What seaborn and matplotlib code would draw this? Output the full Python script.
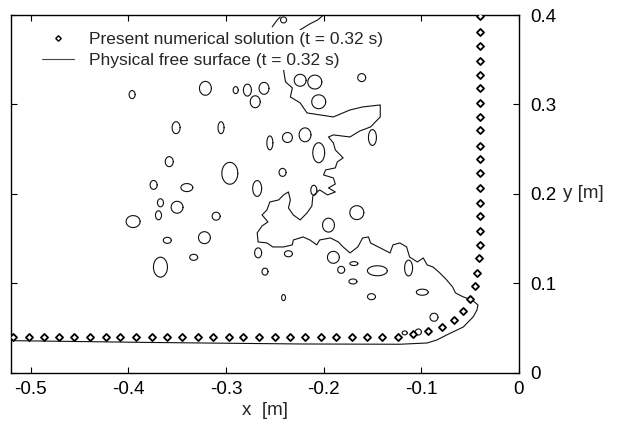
import numpy as np
import pandas as pd
import matplotlib
matplotlib.use("Agg")
import matplotlib.pyplot as plt
from matplotlib.lines import Line2D
import seaborn as sns

# ---------------- data ----------------
# numerical solution markers: bottom row
bottom_x = [-0.518, -0.502, -0.486, -0.471, -0.455, -0.439, -0.423, -0.408, -0.392,
            -0.376, -0.360, -0.345, -0.329, -0.313, -0.297, -0.282, -0.266, -0.250,
            -0.234, -0.219, -0.203, -0.187, -0.171, -0.156, -0.140, -0.124]
bottom_y = [0.040] * len(bottom_x)
# corner run-up
corner_x = [-0.108, -0.093, -0.079, -0.067, -0.057, -0.050, -0.045, -0.043, -0.041,
            -0.040, -0.0396, -0.0396, -0.0396]
corner_y = [0.043, 0.047, 0.051, 0.059, 0.069, 0.082, 0.097, 0.112, 0.128,
            0.143, 0.159, 0.175, 0.190]
# along the right wall
wall_y = [0.207, 0.223, 0.239, 0.254, 0.271, 0.286, 0.302, 0.318, 0.333, 0.349,
          0.365, 0.381, 0.399]
wall_x = [-0.0396] * len(wall_y)

# physical free surface (main contour)
surface_x = [-0.531, -0.377, -0.224, -0.122, -0.094, -0.084, -0.074, -0.057, -0.047,
             -0.043, -0.042, -0.048, -0.057, -0.065, -0.068, -0.074, -0.081, -0.088,
             -0.094, -0.098, -0.104, -0.112, -0.115, -0.122, -0.129, -0.132, -0.142,
             -0.152, -0.154, -0.160, -0.165, -0.173, -0.180, -0.185, -0.193, -0.204,
             -0.207, -0.214, -0.221, -0.231, -0.232, -0.241, -0.252, -0.258, -0.267,
             -0.268, -0.263, -0.257, -0.263, -0.258, -0.255, -0.246, -0.241, -0.236,
             -0.234, -0.236, -0.231, -0.224, -0.217, -0.212, -0.211, -0.204, -0.196,
             -0.188, -0.195, -0.188, -0.190, -0.200, -0.198, -0.188, -0.186, -0.180,
             -0.188, -0.190, -0.195, -0.190, -0.173, -0.163, -0.152, -0.142, -0.142,
             -0.160, -0.173, -0.190, -0.204, -0.217, -0.224, -0.234, -0.232, -0.239,
             -0.241, -0.234, -0.224, -0.214, -0.206, -0.200, -0.197]
surface_y = [0.0360, 0.0338, 0.0321, 0.0318, 0.0332, 0.0366, 0.0422, 0.0511, 0.0623,
             0.0701, 0.0757, 0.0813, 0.0847, 0.0892, 0.0959, 0.1037, 0.1115, 0.1182,
             0.1205, 0.1283, 0.1238, 0.1294, 0.1406, 0.1451, 0.1429, 0.1339, 0.1395,
             0.1451, 0.1518, 0.1507, 0.1406, 0.1339, 0.1406, 0.1462, 0.1507, 0.1484,
             0.1429, 0.1484, 0.1518, 0.1484, 0.1429, 0.1406, 0.1406, 0.1451, 0.1462,
             0.1563, 0.1641, 0.1686, 0.1764, 0.1820, 0.1909, 0.1932, 0.1988, 0.2021,
             0.1932, 0.1842, 0.1764, 0.1708, 0.1786, 0.1864, 0.1976, 0.2044, 0.1988,
             0.2021, 0.2066, 0.2110, 0.2178, 0.2211, 0.2267, 0.2290, 0.2357, 0.2402,
             0.2491, 0.2569, 0.2636, 0.2659, 0.2636, 0.2703, 0.2748, 0.2860, 0.2994,
             0.2972, 0.2938, 0.2860, 0.2883, 0.2905, 0.3017, 0.3084, 0.3185, 0.3252,
             0.3386, 0.3610, 0.3834, 0.3901, 0.3945, 0.4001, 0.4080]

# small arc near the top
arc_x = [-0.2526, -0.2474, -0.2444]
arc_y = [0.3867, 0.3945, 0.3979]

# detached droplets: centre and half sizes
drop_cx = [-0.396, -0.321, -0.290, -0.278, -0.261, -0.270, -0.351, -0.305, -0.255,
           -0.237, -0.219, -0.358, -0.296, -0.268, -0.242, -0.374, -0.340, -0.210,
           -0.367, -0.350, -0.395, -0.369, -0.310, -0.360, -0.322, -0.333, -0.367,
           -0.267, -0.236, -0.260, -0.241, -0.205, -0.205, -0.150, -0.166, -0.195,
           -0.145, -0.113, -0.099, -0.151, -0.087, -0.190, -0.182, -0.169, -0.170,
           -0.241, -0.117, -0.103, -0.224, -0.209, -0.161]
drop_cy = [0.311, 0.318, 0.316, 0.316, 0.318, 0.303, 0.274, 0.274, 0.257,
           0.263, 0.266, 0.236, 0.223, 0.206, 0.224, 0.210, 0.207, 0.204,
           0.190, 0.185, 0.169, 0.176, 0.175, 0.148, 0.151, 0.129, 0.118,
           0.134, 0.133, 0.113, 0.084, 0.303, 0.246, 0.263, 0.179, 0.165,
           0.114, 0.117, 0.090, 0.085, 0.062, 0.129, 0.115, 0.122, 0.102,
           0.3945, 0.0445, 0.0455, 0.327, 0.325, 0.330]
drop_rx = [0.0031, 0.0061, 0.0026, 0.0041, 0.0051, 0.0051, 0.0041, 0.0031, 0.0031,
           0.0051, 0.0061, 0.0041, 0.0082, 0.0046, 0.0036, 0.0036, 0.0061, 0.0031,
           0.0031, 0.0061, 0.0072, 0.0031, 0.0041, 0.0041, 0.0061, 0.0041, 0.0072,
           0.0036, 0.0041, 0.0031, 0.0020, 0.0072, 0.0061, 0.0041, 0.0072, 0.0061,
           0.0102, 0.0041, 0.0061, 0.0041, 0.0041, 0.0061, 0.0036, 0.0041, 0.0041,
           0.0031, 0.0026, 0.0031, 0.0061, 0.0072, 0.0041]
drop_ry = [0.0045, 0.0078, 0.0039, 0.0067, 0.0067, 0.0067, 0.0067, 0.0067, 0.0078,
           0.0056, 0.0078, 0.0056, 0.0123, 0.0089, 0.0045, 0.0050, 0.0045, 0.0056,
           0.0045, 0.0067, 0.0067, 0.0050, 0.0045, 0.0034, 0.0067, 0.0034, 0.0112,
           0.0056, 0.0034, 0.0039, 0.0034, 0.0078, 0.0112, 0.0089, 0.0078, 0.0078,
           0.0056, 0.0089, 0.0034, 0.0034, 0.0045, 0.0067, 0.0039, 0.0022, 0.0028,
           0.0034, 0.0022, 0.0034, 0.0067, 0.0078, 0.0045]

x_ticks = [-0.5, -0.4, -0.3, -0.2, -0.1, 0]
y_ticks = [0, 0.1, 0.2, 0.3, 0.4]
x_ticklabels = ["-0.5", "-0.4", "-0.3", "-0.2", "-0.1", "0"]
y_ticklabels = ["0", "0.1", "0.2", "0.3", "0.4"]

# ---------------- tables ----------------
theta = np.linspace(0, 2 * np.pi, 25)
frames = [pd.DataFrame({"x": surface_x, "y": surface_y, "id": 0}),
          pd.DataFrame({"x": arc_x, "y": arc_y, "id": 1})]
for i, (cx, cy, rx, ry) in enumerate(zip(drop_cx, drop_cy, drop_rx, drop_ry)):
    frames.append(pd.DataFrame({"x": cx + rx * np.cos(theta),
                                "y": cy + ry * np.sin(theta), "id": i + 2}))
lines = pd.concat(frames, ignore_index=True)

markers = pd.DataFrame({"x": bottom_x + corner_x + wall_x,
                        "y": bottom_y + corner_y + wall_y})

# ---------------- plot ----------------
sns.set_style("white")
plt.rcParams["font.family"] = ["Liberation Sans", "DejaVu Sans"]

fig = plt.figure(figsize=(6.35, 4.25), dpi=100)
ax = fig.add_axes([0.0173, 0.1231, 0.8, 0.8416])

sns.lineplot(data=lines, x="x", y="y", units="id", estimator=None, sort=False,
             color="#111111", linewidth=0.8, ax=ax, zorder=2, legend=False)
sns.scatterplot(data=markers, x="x", y="y", marker="D", s=13, facecolor="white",
                edgecolor="black", linewidth=1.3, ax=ax, zorder=3, legend=False)

ax.set_xlim(-0.52, 0)
ax.set_ylim(0, 0.4)
ax.set_xticks(x_ticks)
ax.set_xticklabels(x_ticklabels)
ax.set_yticks(y_ticks)
ax.set_yticklabels(y_ticklabels)
ax.tick_params(axis="both", direction="in", length=4, width=0.8, colors="black",
               labelsize=13.5, top=True, bottom=True, left=True, right=True,
               labelleft=False, labelright=True, labelbottom=True, labeltop=False)
ax.tick_params(axis="y", pad=8)
ax.tick_params(axis="x", pad=6)
for s in ax.spines.values():
    s.set_visible(True)
    s.set_color("black")
    s.set_linewidth(1.0)

ax.set_xlabel("x  [m]", fontsize=13.5, labelpad=3)
ax.set_ylabel("y [m]", fontsize=13.5, rotation=0, ha="center", va="center")
ax.yaxis.set_label_coords(1.127, 0.5)

h1 = Line2D([], [], linestyle="none", marker="D", markersize=2.8,
            markerfacecolor="white", markeredgecolor="black", markeredgewidth=1.0)
h2 = Line2D([], [], color="#444444", linewidth=0.8)
leg = ax.legend([h1, h2], ["Present numerical solution (t = 0.32 s)",
                           "Physical free surface (t = 0.32 s)"],
                loc="upper left", bbox_to_anchor=(0.057, 0.958), fontsize=12.5,
                frameon=True, fancybox=False, framealpha=1, facecolor="white",
                edgecolor="none", borderpad=0.1, borderaxespad=0,
                handlelength=1.84, handletextpad=0.9, labelspacing=0.35,
                numpoints=1)

fig.savefig("out.png", dpi=100)
